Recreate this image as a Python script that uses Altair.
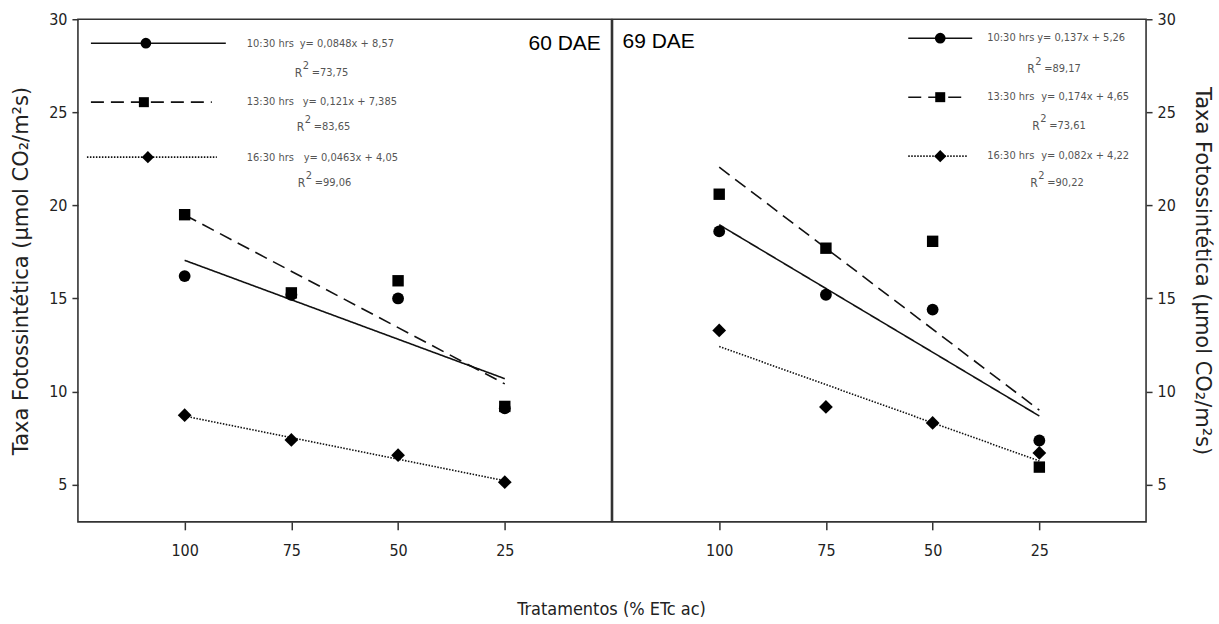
import altair as alt
import pandas as pd

# Irrigation treatments (% ETc ac) and sampling times
levels = [100, 75, 50, 25]
series = ["10:30 hrs", "13:30 hrs", "16:30 hrs"]

# Photosynthetic rate, 60 DAE
dae60_1030 = [16.2, 15.2, 15.0, 9.1]
dae60_1330 = [19.5, 15.3, 15.95, 9.2]
dae60_1630 = [8.73, 7.4, 6.58, 5.13]
slopes60 = [0.0848, 0.121, 0.0463]
intercepts60 = [8.57, 7.385, 4.05]
r2_60 = ["73,75", "83,65", "99,06"]

# Photosynthetic rate, 69 DAE
dae69_1030 = [18.6, 15.2, 14.4, 7.37]
dae69_1330 = [20.6, 17.7, 18.07, 5.94]
dae69_1630 = [13.28, 9.17, 8.31, 6.7]
slopes69 = [0.137, 0.174, 0.082]
intercepts69 = [5.26, 4.65, 4.22]
r2_69 = ["89,17", "73,61", "90,22"]

y_ticks = [5, 10, 15, 20, 25, 30]

NARROW = "Liberation Sans Narrow, Arial Narrow, DejaVu Sans Condensed, Liberation Sans, sans-serif"
SANS = "Liberation Sans, Arial, sans-serif"
WIDE = "DejaVu Sans, Verdana, sans-serif"
Y_TITLE = "Taxa Fotossintética (µmol CO₂/m²s)"

SHAPES = ["circle", "square", "diamond"]
SIZES = [140, 130, 190]
KEY_SIZES = [115, 100, 150]
DASHES = [[1, 0], [13, 7], [1.5, 1.5]]
PW, PH = 534, 503
EQ_GREY = "#555"


def fmt(v):
    return str(v).replace(".", ",")


def fit_frame(slopes, intercepts):
    rows = []
    for name, a, b in zip(series, slopes, intercepts):
        for lv in (levels[0], levels[-1]):
            rows.append({"level": lv, "value": a * lv + b, "series": name})
    return pd.DataFrame(rows)


def label(text, x, y, size=11, dy=0):
    return alt.Chart(alt.Data(values=[{}])).mark_text(
        text=text, font=NARROW, fontSize=size, color=EQ_GREY,
        align="left", baseline="middle", dy=dy
    ).encode(x=alt.value(x), y=alt.value(y))


def panel(cols, slopes, intercepts, r2s, tag, tag_x, tag_y, keys, y_orient, y_title_pad):
    x_enc = alt.X(
        "level:Q",
        scale=alt.Scale(domain=[0, 125], reverse=True, nice=False, zero=False),
        axis=alt.Axis(values=levels, title=None, grid=False, domain=False,
                      tickSize=8, labelPadding=13, format="d"),
    )
    y_enc = alt.Y(
        "value:Q",
        scale=alt.Scale(domain=[3, 30], nice=False, zero=False),
        axis=alt.Axis(values=y_ticks, title=Y_TITLE, orient=y_orient, grid=False,
                      domain=False, tickSize=6, labelPadding=5,
                      titlePadding=y_title_pad),
    )
    dash = alt.StrokeDash("series:N", scale=alt.Scale(domain=series, range=DASHES), legend=None)

    # fitted regression lines, drawn from the stated equations
    fits = alt.Chart(fit_frame(slopes, intercepts)).mark_line(
        color="#111", strokeWidth=1.6
    ).encode(x=x_enc, y=y_enc, strokeDash=dash, detail="series:N")

    layers = [fits]

    # observed means, one marker style per sampling time
    for i, vals in enumerate(cols):
        df = pd.DataFrame({"level": levels, "value": vals})
        layers.append(alt.Chart(df).mark_point(
            shape=SHAPES[i], size=SIZES[i], filled=True, color="#000",
            opacity=1, strokeWidth=0
        ).encode(x=x_enc, y=y_enc))

    blank = alt.Data(values=[{}])

    # panel tag
    layers.append(alt.Chart(blank).mark_text(
        text=tag, font=SANS, fontSize=21, color="#000", align="left", baseline="middle"
    ).encode(x=alt.value(tag_x), y=alt.value(tag_y)))

    # legend keys with fitted equations and R²
    for i, name in enumerate(series):
        k = keys[i]
        layers.append(alt.Chart(blank).mark_rule(
            color="#111", strokeWidth=1.6, strokeDash=DASHES[i]
        ).encode(x=alt.value(k["x1"]), x2=alt.value(k["x2"]), y=alt.value(k["y"])))
        layers.append(alt.Chart(blank).mark_point(
            shape=SHAPES[i], size=KEY_SIZES[i], filled=True, color="#000",
            opacity=1, strokeWidth=0
        ).encode(x=alt.value(k["kx"]), y=alt.value(k["y"])))
        layers.append(label(name, k["nx"], k["ey"]))
        layers.append(label(f"y= {fmt(slopes[i])}x + {fmt(intercepts[i])}", k["ex"], k["ey"]))
        layers.append(label("R", k["rx"], k["ry"], size=12))
        layers.append(label("2", k["rx"] + 8, k["ry"], size=11, dy=-7))
        layers.append(label(f"={r2s[i]}", k["rx"] + 17, k["ry"]))

    return alt.layer(*layers).properties(width=PW, height=PH)


keys60 = [
    dict(x1=13, x2=148, kx=68, y=24, nx=169, ex=222, ey=25, rx=217, ry=54),
    dict(x1=13, x2=134, kx=66, y=83, nx=169, ex=225, ey=83, rx=219, ry=108),
    dict(x1=9, x2=139, kx=70, y=138, nx=169, ex=226, ey=139, rx=220, ry=164),
]
keys69 = [
    dict(x1=296, x2=360, kx=328, y=19, nx=375, ex=425, ey=19, rx=415, ry=50),
    dict(x1=296, x2=354, kx=328, y=78, nx=375, ex=429, ey=78, rx=420, ry=107),
    dict(x1=296, x2=356, kx=328, y=137, nx=375, ex=429, ey=137, rx=418, ry=164),
]

left = panel([dae60_1030, dae60_1330, dae60_1630], slopes60, intercepts60, r2_60,
             "60 DAE", 451, 25, keys60, "left", 17)
right = panel([dae69_1030, dae69_1330, dae69_1630], slopes69, intercepts69, r2_69,
              "69 DAE", 10, 23, keys69, "right", 16)

chart = alt.hconcat(left, right, spacing=-3).resolve_scale(
    x="independent", y="independent"
).properties(
    title=alt.TitleParams("Tratamentos (% ETc ac)", orient="bottom", anchor="middle",
                          font=NARROW, fontSize=18, fontWeight="normal", color="#222",
                          offset=41),
    padding={"left": 9, "top": 10, "right": 5, "bottom": 5},
    background="white",
).configure_view(
    stroke="#333", strokeWidth=1.6
).configure_axis(
    labelFont=NARROW, labelFontSize=16, labelColor="#222",
    titleFont=WIDE, titleFontSize=21, titleFontWeight="normal", titleColor="#222",
    tickColor="#333", tickWidth=1.5,
)

chart.save("out.html", embed_options={"renderer": "svg", "actions": False})
